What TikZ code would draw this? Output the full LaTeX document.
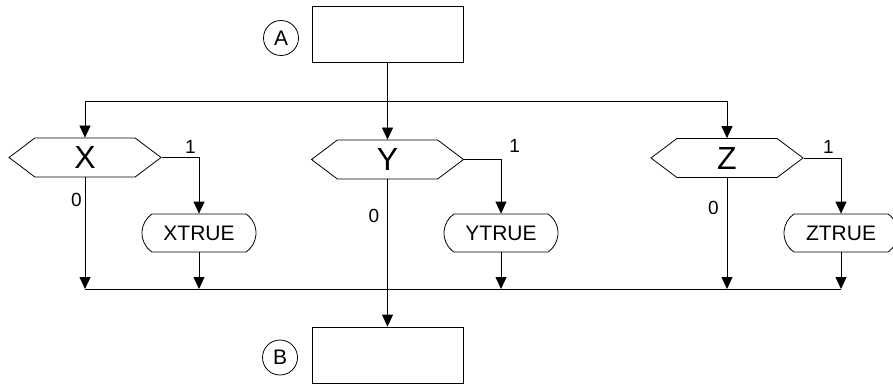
\documentclass[tikz,border=0pt]{standalone}
\usepackage{fontspec}
\setmainfont{Liberation Sans}
\usepackage{tikz}
\usetikzlibrary{arrows.meta,shapes.misc,shapes.symbols}
\tikzset{
  ar/.style={-{Triangle[length=12pt,width=11pt]}},
  blk/.style={draw,minimum width=151pt,minimum height=56pt,inner sep=0pt},
  tag/.style={draw,circle,minimum size=35pt,inner sep=0pt,font=\fontsize{21}{21}\selectfont},
  test/.style={draw,signal,signal to=west and east,signal pointer angle=74,
    minimum width=152pt,minimum height=39pt,inner sep=0pt,font=\fontsize{32}{32}\selectfont},
  term/.style={draw,rounded rectangle,rounded rectangle arc length=110,
    minimum width=114pt,minimum height=38pt,inner sep=0pt,font=\fontsize{21}{21}\selectfont},
  lbl/.style={font=\fontsize{19}{19}\selectfont,inner sep=3pt}
}
\begin{document}
\begin{tikzpicture}[x=1pt,y=-1pt,line width=0.8pt]
\useasboundingbox (0,0) rectangle (893,385);
% entry and exit blocks
\node[blk] (boxA) at (387.5,34) {};
\node[tag] (tagA) at (281,38) {A};
\node[blk] (boxB) at (387.5,355) {};
\node[tag] (tagB) at (280,357.5) {B};
% the three tests
\node[test] (hx) at (85,157.5) {X};
\node[test] (hy) at (387.5,159.5) {Y};
\node[test] (hz) at (727,158) {Z};
\node[term] (tx) at (199,233) {XTRUE};
\node[term] (ty) at (501,233) {YTRUE};
\node[term] (tz) at (841,233) {ZTRUE};
\coordinate (split) at (387.5,101);
\coordinate (mrg) at (387.5,289);
% fan out
\draw (boxA) -- (split);
\draw[ar] (split) -| (hx);
\draw[ar] (split) -- (hy);
\draw[ar] (split) -| (hz);
% true branches
\draw[ar] (hx.east) -| (tx.north) node[lbl,pos=0.5,above left,yshift=1pt]{1};
\draw[ar] (hy.east) -| (ty.north) node[lbl,pos=0.5,above right,xshift=5pt,yshift=4pt]{1};
\draw[ar] (hz.east) -| (tz.north) node[lbl,pos=0.5,above left,xshift=-4pt,yshift=1pt]{1};
% false branches and merge
\draw[ar] (hx.south) -- (hx.south |- mrg) node[lbl,pos=0.2,left,xshift=0pt]{0};
\draw[ar] (hz.south) -- (hz.south |- mrg) node[lbl,pos=0.27,left,xshift=-5pt]{0};
\draw[ar] (hy.south) -- (boxB.north) node[lbl,pos=0.25,left,xshift=-5pt]{0};
\draw[ar] (tx.south) -- (tx.south |- mrg);
\draw[ar] (ty.south) -- (ty.south |- mrg);
\draw[ar] (tz.south) -- (tz.south |- mrg);
\draw (hx.south |- mrg) -- (tz.south |- mrg);
\end{tikzpicture}
\end{document}
